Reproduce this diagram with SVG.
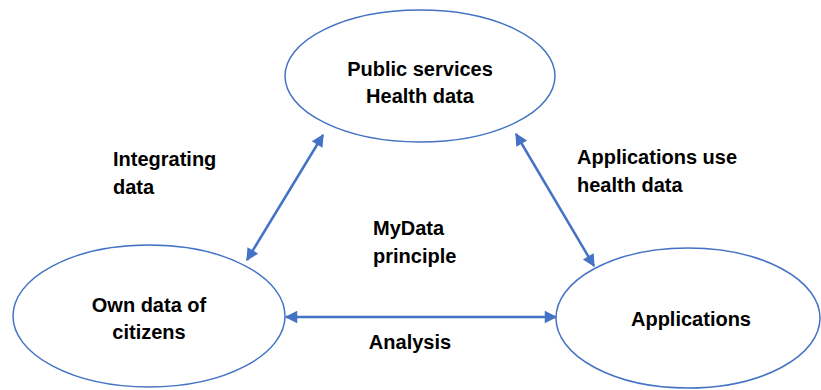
<svg xmlns="http://www.w3.org/2000/svg" width="821" height="390" viewBox="0 0 821 390">
<style>
.node{fill:#fff;stroke:#4472C4;stroke-width:1.5}
.t{font-family:"Liberation Sans",Arial,sans-serif;font-weight:bold;font-size:20px;fill:#000}
.c{text-anchor:middle}
.con{stroke:#4472C4;stroke-width:2.5;fill:none;marker-start:url(#ah);marker-end:url(#ah)}
</style>
<defs>
<marker id="ah" viewBox="0 0 10 10" refX="9" refY="5" markerWidth="6" markerHeight="5" orient="auto-start-reverse" markerUnits="strokeWidth">
<path d="M0,0 L10,5 L0,10 z" fill="#4472C4"/>
</marker>
</defs>
<rect width="821" height="390" fill="#fff"/>
<g id="connectors">
<line class="con" x1="247" y1="260" x2="323" y2="135"/>
<line class="con" x1="516" y1="134" x2="594" y2="266"/>
<line class="con" x1="286" y1="317" x2="556" y2="317"/>
</g>
<g id="public">
<ellipse class="node" cx="420" cy="76" rx="135" ry="66"/>
<text class="t c" x="420" y="76">Public services</text>
<text class="t c" x="420" y="103">Health data</text>
</g>
<g id="own">
<ellipse class="node" cx="149" cy="316" rx="136" ry="71"/>
<text class="t c" x="149" y="312">Own data of</text>
<text class="t c" x="149" y="339">citizens</text>
</g>
<g id="applications">
<ellipse class="node" cx="688" cy="318" rx="132" ry="70"/>
<text class="t c" x="691" y="326">Applications</text>
</g>
<g id="labels">
<text class="t" x="113" y="166">Integrating</text>
<text class="t" x="113" y="194">data</text>
<text class="t" x="577" y="164">Applications use</text>
<text class="t" x="577" y="192">health data</text>
<text class="t" x="373" y="235">MyData</text>
<text class="t" x="373" y="263">principle</text>
<text class="t c" x="410" y="349">Analysis</text>
</g>
</svg>
